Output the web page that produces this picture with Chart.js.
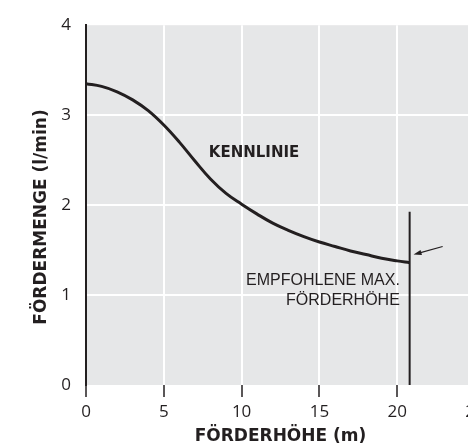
<!DOCTYPE html>
<html>
<head>
<meta charset="utf-8">
<script src="https://cdn.jsdelivr.net/npm/chart.js@4/dist/chart.umd.min.js"></script>
<style>
html,body{margin:0;padding:0;overflow:hidden;background:#fff;width:468px;height:448px;}
#wrap{position:absolute;left:0;top:0;width:500px;height:448px;}
</style>
</head>
<body>
<div id="wrap"><canvas id="c" width="500" height="448"></canvas></div>
<script>
// ---- data ----
const headM   = [0, 1, 2, 3, 4, 5, 6, 7, 8, 9, 10, 11, 12, 13, 14, 15, 16, 17, 18, 19, 20, 20.8];
const flowLpm = [3.35, 3.32, 3.26, 3.17, 3.05, 2.89, 2.70, 2.49, 2.29, 2.13, 2.01, 1.90, 1.80, 1.72, 1.65, 1.59, 1.54, 1.49, 1.45, 1.41, 1.38, 1.36];
const maxHeadX = [20.8, 20.8];
const maxHeadY = [0, 1.925];
const arrowFrom = [22.92, 1.54];
const arrowTo   = [21.05, 1.45];
const xTicks = [0, 5, 10, 15, 20, 25];
const yTicks = [0, 1, 2, 3, 4];
const curveLabel = {text: 'KENNLINIE', x: 10.8, y: 2.575};
const maxLabelLines = ['EMPFOHLENE MAX.', 'FÖRDERHÖHE'];
const maxLabelPos = {x: 20.17, y1: 1.16, y2: 0.94};
const xTitle = 'FÖRDERHÖHE (m)';
const yTitle = 'FÖRDERMENGE (l/min)';

const INK = '#231f20';
const GRAY = '#e6e7e8';

const bgPlugin = {
  id: 'bg',
  beforeDraw(chart) {
    const {ctx, chartArea: a} = chart;
    ctx.save();
    ctx.fillStyle = GRAY;
    ctx.fillRect(a.left, a.top, a.right - a.left, a.bottom - a.top);
    ctx.restore();
  }
};

const annoPlugin = {
  id: 'anno',
  afterDatasetsDraw(chart) {
    const {ctx, scales: {x, y}} = chart;
    ctx.save();
    ctx.fillStyle = INK;
    ctx.strokeStyle = INK;
    // curve label
    ctx.font = 'bold 15px "DejaVu Sans"';
    ctx.textAlign = 'center';
    ctx.textBaseline = 'middle';
    ctx.fillText(curveLabel.text, x.getPixelForValue(curveLabel.x), y.getPixelForValue(curveLabel.y));
    // recommended max head label
    ctx.font = '16px "Liberation Sans"';
    ctx.textAlign = 'right';
    ctx.fillText(maxLabelLines[0], x.getPixelForValue(maxLabelPos.x), y.getPixelForValue(maxLabelPos.y1));
    ctx.fillText(maxLabelLines[1], x.getPixelForValue(maxLabelPos.x), y.getPixelForValue(maxLabelPos.y2));
    // arrow
    const x1 = x.getPixelForValue(arrowFrom[0]), y1 = y.getPixelForValue(arrowFrom[1]);
    const x2 = x.getPixelForValue(arrowTo[0]), y2 = y.getPixelForValue(arrowTo[1]);
    const ang = Math.atan2(y2 - y1, x2 - x1);
    const hl = 8, hw = 2.6;
    ctx.lineWidth = 1.2;
    ctx.beginPath();
    ctx.moveTo(x1, y1);
    ctx.lineTo(x2 - Math.cos(ang) * hl * 0.8, y2 - Math.sin(ang) * hl * 0.8);
    ctx.stroke();
    ctx.beginPath();
    ctx.moveTo(x2, y2);
    ctx.lineTo(x2 - Math.cos(ang) * hl - Math.sin(ang) * hw, y2 - Math.sin(ang) * hl + Math.cos(ang) * hw);
    ctx.lineTo(x2 - Math.cos(ang) * hl + Math.sin(ang) * hw, y2 - Math.sin(ang) * hl - Math.cos(ang) * hw);
    ctx.closePath();
    ctx.fill();
    // y-axis title
    ctx.font = 'bold 17px "DejaVu Sans"';
    ctx.textAlign = 'center';
    ctx.textBaseline = 'middle';
    ctx.translate(42, 217);
    ctx.rotate(-Math.PI / 2);
    ctx.fillText(yTitle, 0, 0);
    ctx.restore();
  }
};

new Chart(document.getElementById('c'), {
  type: 'line',
  data: {
    datasets: [
      {
        data: headM.map((h, i) => ({x: h, y: flowLpm[i]})),
        borderColor: INK,
        borderWidth: 3,
        pointRadius: 0,
        tension: 0.4,
        fill: false
      },
      {
        data: maxHeadX.map((h, i) => ({x: h, y: maxHeadY[i]})),
        borderColor: INK,
        borderWidth: 2,
        pointRadius: 0,
        fill: false
      }
    ]
  },
  plugins: [bgPlugin, annoPlugin],
  options: {
    responsive: false,
    animation: false,
    devicePixelRatio: 1,
    layout: {padding: {top: 20, right: 25, left: 0, bottom: 0}},
    plugins: {legend: {display: false}, tooltip: {enabled: false}},
    scales: {
      x: {
        type: 'linear',
        min: 0, max: 25,
        afterBuildTicks(s) { s.ticks = xTicks.map(v => ({value: v})); },
        afterFit(s) { s.height = 63; },
        border: {display: false},
        grid: {
          color: c => (c.tick && (c.tick.value === 0 || c.tick.value === 25)) ? 'rgba(0,0,0,0)' : '#ffffff',
          lineWidth: 2,
          tickColor: INK,
          tickWidth: 1.5,
          tickLength: 12
        },
        ticks: {
          color: INK,
          padding: 5,
          maxRotation: 0,
          font: {family: '"Open Sans"', size: 17}
        },
        title: {
          display: true,
          text: xTitle,
          color: INK,
          padding: {top: 0, bottom: 1},
          font: {family: '"DejaVu Sans"', size: 17, weight: 'bold'}
        }
      },
      y: {
        type: 'linear',
        min: 0, max: 4,
        afterBuildTicks(s) { s.ticks = yTicks.map(v => ({value: v})); },
        afterFit(s) { s.width = 86; },
        border: {display: true, color: INK, width: 2},
        grid: {
          color: c => (c.tick && (c.tick.value === 0 || c.tick.value === 4)) ? 'rgba(0,0,0,0)' : '#ffffff',
          lineWidth: 2,
          drawTicks: false
        },
        ticks: {
          color: INK,
          padding: 15,
          font: {family: '"Open Sans"', size: 17}
        }
      }
    }
  }
});
</script>
</body>
</html>
